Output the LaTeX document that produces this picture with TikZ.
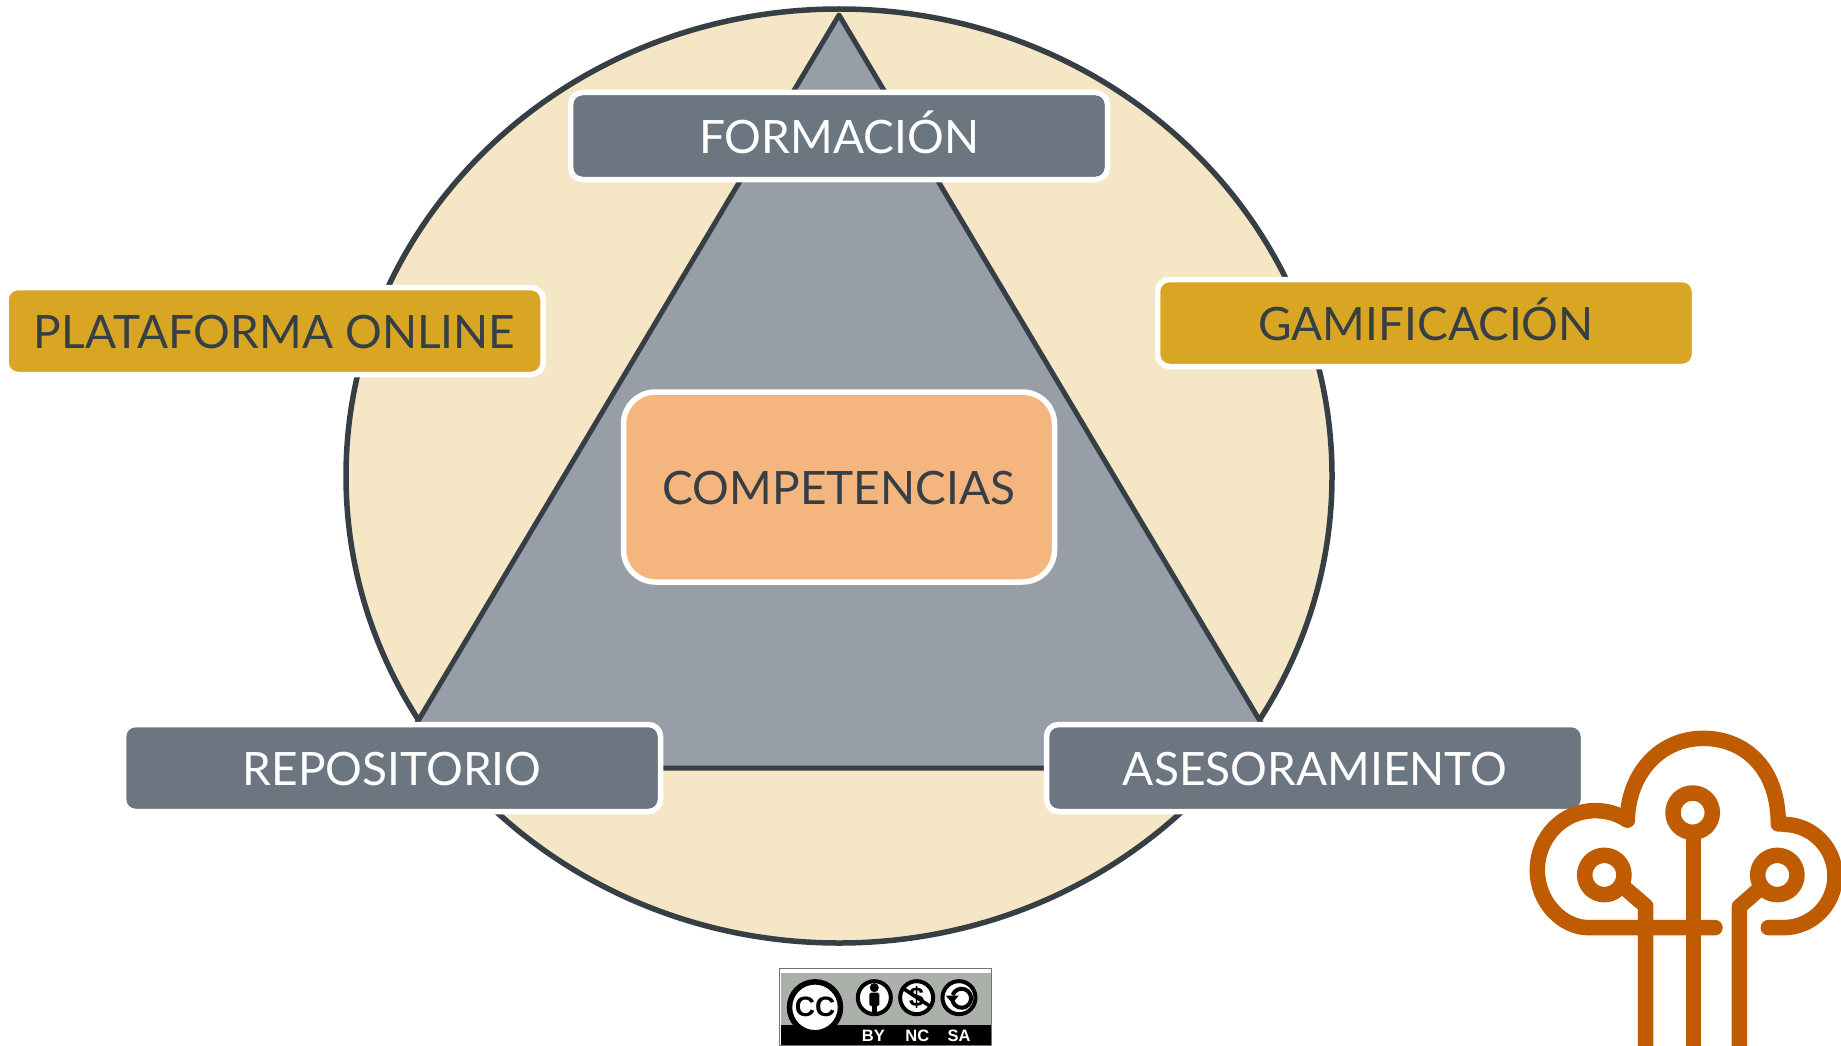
\documentclass[tikz,border=0pt]{standalone}
\usepackage{fontspec}
\setmainfont{Lato}
\newfontfamily\ccfont{Liberation Sans}
\definecolor{cream}{HTML}{F5E6C5}
\definecolor{slate}{HTML}{6C7681}
\definecolor{trifill}{HTML}{979EA8}
\definecolor{gold}{HTML}{D9A624}
\definecolor{peach}{HTML}{F4B57F}
\definecolor{ink}{HTML}{363F45}
\definecolor{logo}{HTML}{BF5B00}
\definecolor{ccgrey}{HTML}{ABB1AA}
\tikzset{
  lbl/.style={draw=white,line width=5.5pt,rounded corners=12pt,inner sep=0pt,
    minimum width=537pt,minimum height=87pt,text height=35pt,text depth=0pt,
    font=\fontsize{46}{46}\selectfont},
  darkbox/.style={lbl,fill=slate,text=white},
  goldbox/.style={lbl,fill=gold,text=ink},
  logoline/.style={draw=logo,line width=15.5pt,line cap=round,line join=round},
  ccicon/.style={circle,draw=black,line width=4pt,fill=white,minimum size=33pt,inner sep=0pt},
  cctext/.style={text=white,inner sep=0pt,font=\ccfont\bfseries\fontsize{16.5}{16.5}\selectfont}
}
\begin{document}
\begin{tikzpicture}[x=1pt,y=-1pt]
\useasboundingbox (0,0) rectangle (1841,1046);
\fill[white] (0,0) rectangle (1841,1046);
% circle and triangle
\draw[fill=cream,draw=ink,line width=5.5pt] (839,476) ellipse [x radius=493pt,y radius=467pt];
\draw[fill=trifill,draw=ink,line width=5pt,line join=round] (839,15) -- (1288,768) -- (390,768) -- cycle;
% labels
\node[darkbox] (formacion) at (839,136) {FORMACIÓN};
\node[goldbox] (plataforma) at (274.5,331) {PLATAFORMA ONLINE};
\node[goldbox] (gamificacion) at (1426,323) {GAMIFICACIÓN};
\node[darkbox] (repositorio) at (392,768) {REPOSITORIO};
\node[darkbox] (asesoramiento) at (1315,768) {ASESORAMIENTO};
\node[lbl,fill=peach,text=ink,minimum width=431pt,minimum height=190pt,rounded corners=32pt] (competencias) at (839,487) {COMPETENCIAS};
% logo
\begin{scope}[shift={(1500,700)},x=0.3333pt,y=-0.3333pt]
\draw[logoline] (805,683) -- (850,683) arc[start angle=-90,end angle=90,x radius=155pt/3,y radius=155pt/3] ++(0,0);
\draw[logoline] (835,372) .. controls (835,200) and (730,115) .. (610,115) .. controls (480,115) and (385,220) .. (382,360);
\draw[logoline] (382,360) .. controls (350,340) and (320,332) .. (285,332) .. controls (190,332) and (112,410) .. (112,510) .. controls (112,610) and (190,683) .. (265,683) -- (645,683);
\draw[logoline] (578,338) circle[radius=59pt/3];
\draw[logoline] (313,525) circle[radius=59pt/3];
\draw[logoline] (832,525) circle[radius=59pt/3];
\draw[logoline,line cap=butt] (580,400) -- (580,1038);
\draw[logoline,line cap=butt] (437,1038) -- (437,618) -- (372,562);
\draw[logoline,line cap=butt] (718,1038) -- (718,620) -- (775,570);
\end{scope}
% licence badge
\begin{scope}[shift={(760,950)},x=0.3333pt,y=-0.3333pt]
\fill[white] (58,55) rectangle (695,288);
\fill[ccgrey] (62,70) rectangle (692,225);
\fill[black] (62,225) rectangle (692,288);
\draw[slate,line width=1.5pt] (58,55) rectangle (695,288);
\node[circle,draw=black,line width=5.5pt,fill=white,minimum size=51pt,inner sep=0pt,font=\ccfont\bfseries\fontsize{28}{28}\selectfont] (cc) at (165,172) {CC};
\node[ccicon] (by) at (343,143) {};
\fill[black] (343,113) circle[radius=4.5pt];
\fill[black,rounded corners=1.5pt] (328,128) rectangle (358,168);
\fill[black] (335,160) rectangle (351,185);
\node[ccicon,font=\ccfont\bfseries\fontsize{27}{27}\selectfont] (nc) at (470,143) {\$};
\draw[black,line width=3.5pt] (425,112) -- (515,172);
\node[ccicon] (sa) at (597,143) {};
\draw[black,line width=4pt] (578,135) arc[start angle=160,end angle=-160,radius=9.5pt];
\fill[black] (558,137) -- (596,137) -- (577,160) -- cycle;
\node[cctext] (bytxt) at (340,257) {BY};
\node[cctext] (nctxt) at (472,257) {NC};
\node[cctext] (satxt) at (597,257) {SA};
\end{scope}
\end{tikzpicture}
\end{document}
